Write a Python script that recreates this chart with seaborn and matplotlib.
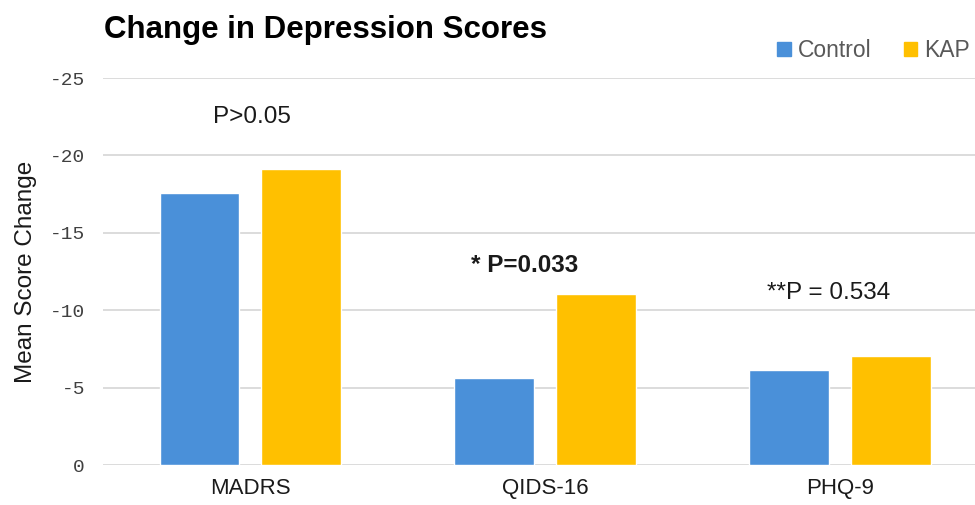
import matplotlib
matplotlib.use("Agg")
import matplotlib.pyplot as plt
import seaborn as sns
import pandas as pd
from matplotlib.ticker import FuncFormatter
from matplotlib.patches import Patch

categories = ["MADRS", "QIDS-16", "PHQ-9"]
groups = ["Control", "KAP"]
control_vals = [-17.6, -5.65, -6.15]
kap_vals = [-19.1, -11.05, -7.05]
yticks = [0, -5, -10, -15, -20, -25]
annotations = ["P>0.05", "* P=0.033", "**P = 0.534"]
annot_x = [0.007, 0.932, 1.96]
annot_y = [-22.5, -12.9, -11.1]
annot_bold = [False, True, False]

df = pd.DataFrame({
    "cat": categories * 2,
    "group": ["Control"] * 3 + ["KAP"] * 3,
    "val": control_vals + kap_vals,
})

sns.set_style("white")
plt.rcParams["font.family"] = ["Liberation Sans", "DejaVu Sans"]

fig = plt.figure(figsize=(9.75, 5.05), dpi=100)
ax = fig.add_axes([0.1056, 0.0792, 0.8944, 0.7663])

sns.barplot(data=df, x="cat", y="val", hue="group", order=categories,
            hue_order=groups, palette={"Control": "#4A90D9", "KAP": "#FFC000"},
            width=0.69, gap=0.215, saturation=1, ax=ax, legend=False)

ax.set_ylim(0, -25)
ax.set_xlim(-0.5, 2.458)
ax.set_yticks(yticks)
ax.yaxis.set_major_formatter(FuncFormatter(lambda v, p: "%d" % v if v != 0 else "0"))
for lbl in ax.get_yticklabels():
    lbl.set_family("Liberation Mono")
    lbl.set_fontsize(14)
    lbl.set_color("#404040")
ax.tick_params(axis="y", length=0, pad=13)
ax.tick_params(axis="x", length=0, pad=9, labelsize=16, labelcolor="#1a1a1a")
ax.grid(axis="y", color="#D9D9D9", linewidth=1.3)
ax.set_axisbelow(True)
for s in ax.spines.values():
    s.set_visible(False)
ax.set_xlabel("")
ax.set_ylabel("Mean Score Change", fontsize=17.5, color="#1a1a1a", labelpad=9)

for x, y, t, b in zip(annot_x, annot_y, annotations, annot_bold):
    ax.text(x, y, t, ha="center", va="center", fontsize=17.5,
            fontweight="bold" if b else "normal", color="#1a1a1a")

fig.text(0.107, 0.94, "Change in Depression Scores", fontsize=22.5,
         fontweight="bold", ha="left", va="center", color="#000000")

handles = [Patch(color="#4A90D9"), Patch(color="#FFC000")]
fig.legend(handles, groups, loc="center right", bbox_to_anchor=(1.016, 0.90),
           ncol=2, frameon=False, fontsize=16.5, labelcolor="#595959",
           handlelength=0.6, handleheight=0.6, handletextpad=0.3,
           columnspacing=1.4)

fig.savefig("out.png", dpi=100)
